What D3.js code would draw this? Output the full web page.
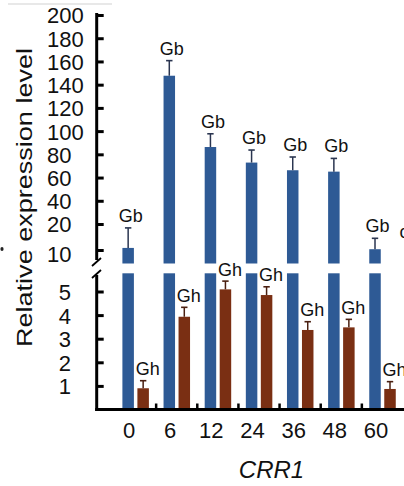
<!DOCTYPE html>
<html>
<head>
<meta charset="utf-8">
<script src="https://cdn.jsdelivr.net/npm/d3@7"></script>
<style>
  html, body { margin: 0; padding: 0; background: #fff; }
  svg { display: block; }
  text { font-family: "Liberation Sans", Arial, sans-serif; fill: #111; }
</style>
</head>
<body>
<svg id="chart" width="404" height="486"></svg>
<script>
// ---- data ----
const categories = ["0", "6", "12", "24", "36", "48", "60"];
const gbValues = [10.8, 147.7, 86.3, 72.9, 66.3, 65.1, 10.3];
const gbErrors = [7.7, 13.0, 11.4, 10.8, 11.4, 11.4, 4.2];
const ghValues = [0.9, 3.93, 5.09, 4.85, 3.37, 3.48, 0.87];
const ghErrors = [0.32, 0.40, 0.35, 0.35, 0.35, 0.34, 0.31];
const upperTicks = [10, 20, 40, 60, 80, 100, 120, 140, 160, 180, 200];
const lowerTicks = [1, 2, 3, 4, 5];
const gbLabel = "Gb", ghLabel = "Gh";
const yTitle = "Relative expression level";
const xTitle = "CRR1";

// ---- layout ----
const svg = d3.select("#chart");
const axisX = 96.7;
const baseY = 409.5;
const upperBottom = 263.5;   // bottom of upper segment (bars)
const lowerTop = 273.3;      // top of lower segment (bars)
const blueCol = "#2e5a95", brownCol = "#7a2f13";
const blueErr = "#2a3550", brownErr = "#4a1f10";

const x = d3.scaleBand().domain(categories).range([115, 403]);
const barW = 11.5;
const blueOff = 7.4, brownOff = 22.4;

const yLow = d3.scaleLinear().domain([0, 5]).range([baseY, 291.5]);
const yUp = d3.scaleLinear().domain([10, 20, 200]).range([250, 224, 15]);

// top stray gray line and dot (cropped neighbours)
svg.append("line").attr("x1", 8).attr("x2", 112).attr("y1", 4).attr("y2", 4)
  .attr("stroke", "#d2d2d2").attr("stroke-width", 1.2);
svg.append("ellipse").attr("cx", 2).attr("cy", 249).attr("rx", 1.6).attr("ry", 2)
  .attr("fill", "#222");

// ---- bars ----
const gb = categories.map((c, i) => ({c, v: gbValues[i], e: gbErrors[i]}));
const gh = categories.map((c, i) => ({c, v: ghValues[i], e: ghErrors[i]}));

// blue lower parts
svg.selectAll(".gbLow").data(gb).join("rect")
  .attr("x", d => x(d.c) + blueOff).attr("width", barW)
  .attr("y", d => Math.max(yLow(d.v), lowerTop))
  .attr("height", d => baseY - Math.max(yLow(d.v), lowerTop))
  .attr("fill", blueCol);
// blue upper parts
svg.selectAll(".gbUp").data(gb).join("rect")
  .attr("x", d => x(d.c) + blueOff).attr("width", barW)
  .attr("y", d => yUp(d.v))
  .attr("height", d => upperBottom - yUp(d.v))
  .attr("fill", blueCol);
// blue error bars
gb.forEach(d => {
  const cx = x(d.c) + blueOff + barW / 2;
  const top = yUp(d.v + d.e);
  svg.append("line").attr("x1", cx).attr("x2", cx).attr("y1", yUp(d.v)).attr("y2", top)
    .attr("stroke", blueErr).attr("stroke-width", 1.5);
  svg.append("line").attr("x1", cx - 3.2).attr("x2", cx + 3.2).attr("y1", top).attr("y2", top)
    .attr("stroke", blueErr).attr("stroke-width", 1.6);
  svg.append("text").attr("x", cx + 2.5).attr("y", top - 6)
    .attr("text-anchor", "middle").attr("font-size", 18).text(gbLabel);
});

// brown bars
svg.selectAll(".gh").data(gh).join("rect")
  .attr("x", d => x(d.c) + brownOff).attr("width", barW)
  .attr("y", d => yLow(d.v))
  .attr("height", d => baseY - yLow(d.v))
  .attr("fill", brownCol);
gh.forEach(d => {
  const cx = x(d.c) + brownOff + barW / 2;
  const top = yLow(d.v + d.e);
  svg.append("line").attr("x1", cx).attr("x2", cx).attr("y1", yLow(d.v)).attr("y2", top)
    .attr("stroke", brownErr).attr("stroke-width", 1.5);
  svg.append("line").attr("x1", cx - 3.2).attr("x2", cx + 3.2).attr("y1", top).attr("y2", top)
    .attr("stroke", brownErr).attr("stroke-width", 1.6);
  svg.append("text").attr("x", cx + 4.5).attr("y", top - 5.5)
    .attr("text-anchor", "middle").attr("font-size", 18).text(ghLabel);
});

// cropped neighbour glyph at right edge
svg.append("text").attr("x", 399.5).attr("y", 238).attr("font-size", 18).text("c");

// ---- y axes ----
const gUp = svg.append("g").attr("transform", `translate(${axisX},0)`)
  .call(d3.axisLeft(yUp).tickValues(upperTicks).tickSize(-7).tickFormat(d3.format("d")));
const gLow = svg.append("g").attr("transform", `translate(${axisX},0)`)
  .call(d3.axisLeft(yLow).tickValues(lowerTicks).tickSize(-7).tickFormat(d3.format("d")));
[gUp, gLow].forEach(g => {
  g.select(".domain").remove();
  g.selectAll(".tick line").attr("stroke", "#000").attr("stroke-width", 3);
  g.selectAll(".tick text").attr("font-size", 22).attr("font-family", "Liberation Sans, Arial, sans-serif")
    .attr("fill", "#111").attr("dy", "0.36em");
});
gUp.selectAll(".tick text").attr("text-anchor", "start").attr("x", 47 - axisX);
gUp.selectAll(".tick text").filter(d => d === 10).attr("dy", "0.5em");
gLow.selectAll(".tick text").attr("text-anchor", "end").attr("x", 71 - axisX);

// axis line with break
svg.append("line").attr("x1", axisX).attr("x2", axisX).attr("y1", 13).attr("y2", 260)
  .attr("stroke", "#000").attr("stroke-width", 3);
svg.append("line").attr("x1", axisX).attr("x2", axisX).attr("y1", 275).attr("y2", baseY + 1.5)
  .attr("stroke", "#000").attr("stroke-width", 3);
svg.append("line").attr("x1", 92).attr("x2", 101).attr("y1", 266).attr("y2", 258)
  .attr("stroke", "#000").attr("stroke-width", 1.8);
svg.append("line").attr("x1", 92).attr("x2", 101).attr("y1", 278).attr("y2", 270)
  .attr("stroke", "#000").attr("stroke-width", 1.8);

// ---- x axis ----
svg.append("line").attr("x1", axisX - 1.5).attr("x2", 404).attr("y1", baseY).attr("y2", baseY)
  .attr("stroke", "#000").attr("stroke-width", 3);
const boundaries = categories.slice(1);
svg.selectAll(".xt").data(boundaries).join("line")
  .attr("x1", d => x(d)).attr("x2", d => x(d))
  .attr("y1", baseY).attr("y2", baseY - 6)
  .attr("stroke", "#000").attr("stroke-width", 2.5);
svg.selectAll(".xl").data(categories).join("text")
  .attr("x", d => x(d) + x.bandwidth() / 2 - 6.5)
  .attr("y", 438).attr("text-anchor", "middle").attr("font-size", 22).text(d => d);

// titles
svg.append("text").attr("x", 271.5).attr("y", 478).attr("text-anchor", "middle")
  .attr("font-size", 24).attr("font-style", "italic").text(xTitle);
svg.append("text").attr("transform", "translate(32,197.5) rotate(-90)")
  .attr("text-anchor", "middle").attr("font-size", 21.5)
  .attr("textLength", 299).attr("lengthAdjust", "spacingAndGlyphs").text(yTitle);
</script>
</body>
</html>
